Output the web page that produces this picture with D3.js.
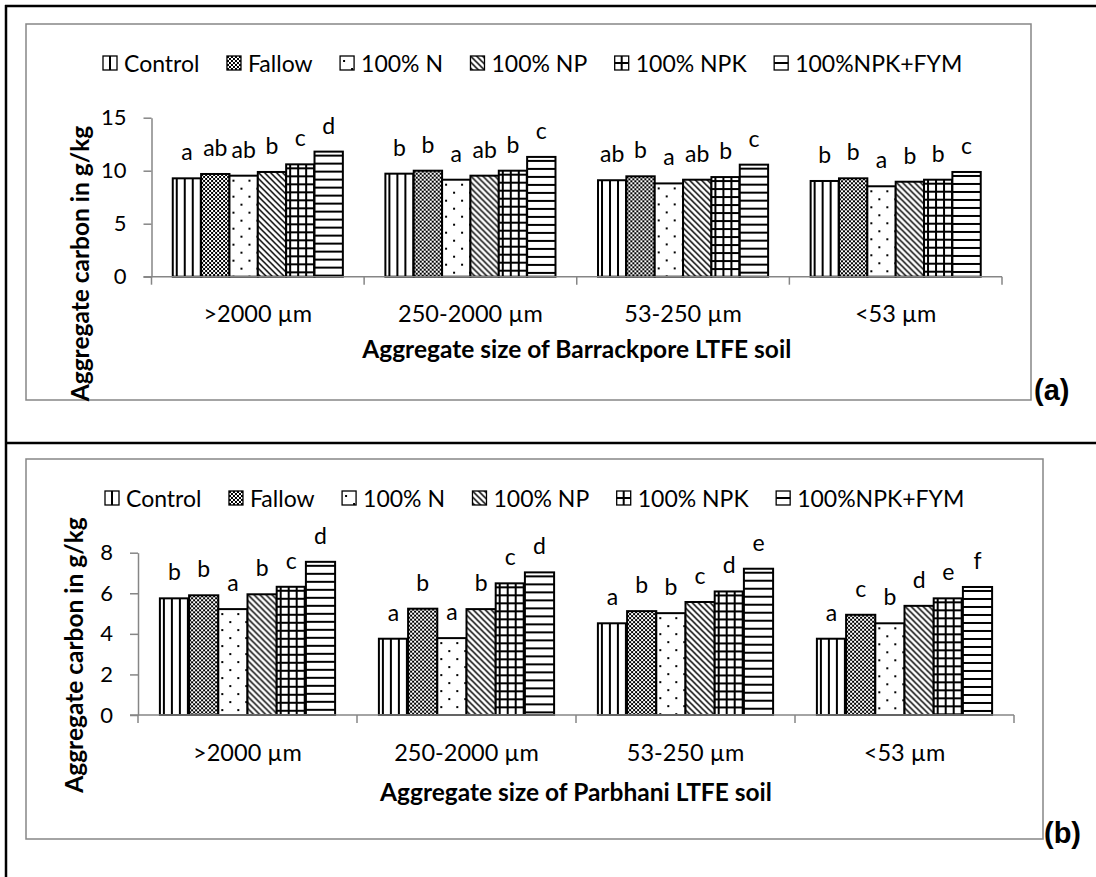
<!DOCTYPE html>
<html>
<head>
<meta charset="utf-8">
<script src="https://cdn.jsdelivr.net/npm/d3@7"></script>
<style>
  html, body { margin: 0; padding: 0; background: #fff; }
  svg { display: block; }
  text { font-family: Lato, "Noto Sans", sans-serif; fill: #000; }
</style>
</head>
<body>
<svg id="chart" width="1096" height="877"></svg>
<script>
// ---------------- DATA ----------------
const categories = [">2000 µm", "250-2000 µm", "53-250 µm", "<53 µm"];
const treatments = ["Control", "Fallow", "100% N", "100% NP", "100% NPK", "100%NPK+FYM"];

// (a) Barrackpore LTFE soil – aggregate carbon (g/kg), per treatment across categories
const barrackporeControl = [9.28, 9.72, 9.10, 9.03];
const barrackporeFallow  = [9.69, 10.00, 9.47, 9.28];
const barrackporeN       = [9.53, 9.15, 8.80, 8.53];
const barrackporeNP      = [9.88, 9.53, 9.15, 8.96];
const barrackporeNPK     = [10.60, 10.00, 9.40, 9.15];
const barrackporeNPKFYM  = [11.80, 11.30, 10.57, 9.88];
const barrackporeLetters = [
  ["a", "ab", "ab", "b", "c", "d"],
  ["b", "b", "a", "ab", "b", "c"],
  ["ab", "b", "a", "ab", "b", "c"],
  ["b", "b", "a", "b", "b", "c"]
];
const barrackporeTicks = [0, 5, 10, 15];

// (b) Parbhani LTFE soil
const parbhaniControl = [5.75, 3.76, 4.52, 3.76];
const parbhaniFallow  = [5.90, 5.24, 5.12, 4.94];
const parbhaniN       = [5.22, 3.79, 5.02, 4.52];
const parbhaniNP      = [5.95, 5.22, 5.57, 5.38];
const parbhaniNPK     = [6.32, 6.49, 6.09, 5.75];
const parbhaniNPKFYM  = [7.55, 7.03, 7.21, 6.31];
const parbhaniLetters = [
  ["b", "b", "a", "b", "c", "d"],
  ["a", "b", "a", "b", "c", "d"],
  ["a", "b", "b", "c", "d", "e"],
  ["a", "c", "b", "d", "e", "f"]
];
const parbhaniTicks = [0, 2, 4, 6, 8];

const yTitle = "Aggregate carbon in g/kg";
const xTitleA = "Aggregate size of Barrackpore LTFE soil";
const xTitleB = "Aggregate size of Parbhani LTFE soil";

// ---------------- STYLE ----------------
const axisGray = "#868686";
const svg = d3.select("#chart");
const defs = svg.append("defs");

const patternKinds = ["vert", "check", "dots", "diag", "grid", "horiz"];

function makePattern(id, kind, tile) {
  const p = defs.append("pattern").attr("id", id)
    .attr("patternUnits", "userSpaceOnUse")
    .attr("width", kind === "check" ? 4 : (kind === "dots" ? 16 : tile))
    .attr("height", kind === "check" ? 4 : (kind === "dots" ? 16 : tile));
  const m = tile / 2 - 1;
  if (kind === "vert") {
    p.append("rect").attr("x", m).attr("y", 0).attr("width", 2).attr("height", tile).attr("fill", "#000");
  } else if (kind === "horiz") {
    p.append("rect").attr("x", 0).attr("y", m).attr("width", tile).attr("height", 2).attr("fill", "#000");
  } else if (kind === "grid") {
    p.append("rect").attr("x", m).attr("y", 0).attr("width", 2).attr("height", tile).attr("fill", "#000");
    p.append("rect").attr("x", 0).attr("y", m).attr("width", tile).attr("height", 2).attr("fill", "#000");
  } else if (kind === "check") {
    p.append("rect").attr("x", 0).attr("y", 0).attr("width", 2).attr("height", 2).attr("fill", "#000");
    p.append("rect").attr("x", 2).attr("y", 2).attr("width", 2).attr("height", 2).attr("fill", "#000");
  } else if (kind === "dots") {
    p.append("rect").attr("x", 3).attr("y", 4).attr("width", 2).attr("height", 2).attr("fill", "#000");
    p.append("rect").attr("x", 11).attr("y", 12).attr("width", 2).attr("height", 2).attr("fill", "#000");
  } else if (kind === "diag") {
    p.attr("width", 6).attr("height", 6);
    p.append("path").attr("d", "M-1,-1 L7,7 M-1,5 L1,7 M5,-1 L7,1")
      .attr("stroke", "#000").attr("stroke-width", 1.5).attr("fill", "none");
  }
}
patternKinds.forEach(k => { makePattern("bar-" + k, k, 8); makePattern("key-" + k, k, 14); });

// ---------------- FRAME ----------------
const frame = svg.append("g").attr("stroke", "#000").attr("stroke-width", 2.5);
frame.append("line").attr("x1", 5).attr("x2", 1096).attr("y1", 6).attr("y2", 6);
frame.append("line").attr("x1", 6).attr("x2", 6).attr("y1", 5).attr("y2", 877);
frame.append("line").attr("x1", 5).attr("x2", 1096).attr("y1", 443).attr("y2", 443);

// ---------------- CHART ----------------
function drawChart(cfg) {
  const g = svg.append("g");
  const series = cfg.series;

  // chart area border
  g.append("rect").attr("x", cfg.box[0]).attr("y", cfg.box[1])
    .attr("width", cfg.box[2] - cfg.box[0]).attr("height", cfg.box[3] - cfg.box[1])
    .attr("fill", "none").attr("stroke", axisGray).attr("stroke-width", 1.5);

  const x = d3.scaleBand().domain(categories).range([cfg.x0, cfg.x1]).paddingInner(0).paddingOuter(0);
  const bw = x.bandwidth();
  const xi = d3.scaleBand().domain(treatments).range([bw * 0.1, bw * 0.9]).padding(0);
  const y = d3.scaleLinear().domain(cfg.domain).range([cfg.yBottom, cfg.yTop]);

  // bars
  categories.forEach((cat, ci) => {
    treatments.forEach((t, ti) => {
      const v = series[ti][ci];
      const bx = x(cat) + xi(t);
      const by = y(v);
      const bg = g.append("g").attr("transform", `translate(${bx},${by})`);
      bg.append("rect").attr("width", xi.bandwidth()).attr("height", y(0) - by).attr("fill", "#fff");
      bg.append("rect").attr("width", xi.bandwidth()).attr("height", y(0) - by)
        .attr("fill", `url(#bar-${patternKinds[ti]})`)
        .attr("stroke", "#000").attr("stroke-width", 2);
      g.append("text").attr("x", bx + xi.bandwidth() / 2).attr("y", by - 18)
        .attr("text-anchor", "middle").style("font-size", "23px")
        .text(cfg.letters[ci][ti]);
    });
  });

  // y axis
  const yAxis = d3.axisLeft(y).tickValues(cfg.ticks).tickSize(8).tickSizeOuter(0).tickPadding(17)
    .tickFormat(d3.format("d"));
  const ya = g.append("g").attr("transform", `translate(${cfg.x0},0)`).call(yAxis);
  ya.select(".domain").attr("stroke", axisGray).attr("stroke-width", 1.5);
  ya.selectAll(".tick line").attr("stroke", axisGray).attr("stroke-width", 1.5);
  ya.selectAll(".tick text").style("font-size", "22px").style("font-family", "Lato, sans-serif").attr("fill", "#000");

  // x axis
  const xa = g.append("g").attr("stroke", axisGray).attr("stroke-width", 1.5);
  xa.append("line").attr("x1", cfg.x0 - 8).attr("x2", cfg.x1).attr("y1", y(0)).attr("y2", y(0));
  const bounds = categories.map(c => x(c)).concat([cfg.x1]);
  bounds.forEach(b => {
    xa.append("line").attr("x1", b).attr("x2", b).attr("y1", y(0)).attr("y2", y(0) + 8);
  });
  categories.forEach(c => {
    g.append("text").attr("x", x(c) + bw / 2).attr("y", cfg.catY)
      .attr("text-anchor", "middle").attr("dominant-baseline", "central")
      .style("font-size", "23.5px").text(c);
  });

  // axis titles
  g.append("text").attr("x", (cfg.x0 + cfg.x1) / 2).attr("y", cfg.xTitleY)
    .attr("text-anchor", "middle").attr("dominant-baseline", "central")
    .style("font-size", "24.5px").style("font-weight", "bold").text(cfg.xTitle);
  g.append("text").attr("transform", `translate(${cfg.yTitleX},${cfg.yTitleY}) rotate(-90)`)
    .attr("text-anchor", "middle").attr("dominant-baseline", "central")
    .style("font-size", "24.5px").style("font-weight", "bold").text(yTitle);

  // legend
  const leg = g.append("g");
  let lx = cfg.legendX;
  treatments.forEach((t, ti) => {
    const item = leg.append("g").attr("transform", `translate(${lx},${cfg.legendY - 7})`);
    item.append("rect").attr("width", 14).attr("height", 14).attr("fill", "#fff");
    item.append("rect").attr("width", 14).attr("height", 14)
      .attr("fill", `url(#key-${patternKinds[ti]})`).attr("stroke", "#000").attr("stroke-width", 1.3);
    const tx = item.append("text").attr("x", 21).attr("y", 7).attr("dominant-baseline", "central")
      .style("font-size", "23px").text(t);
    lx += 21 + tx.node().getComputedTextLength() + 27.5;
  });

  // panel label
  g.append("text").attr("x", cfg.panelX).attr("y", cfg.panelY)
    .style("font-family", "'Liberation Sans', Arial, sans-serif").style("font-weight", "bold")
    .style("font-size", "29px").text(cfg.panel);
}

drawChart({
  series: [barrackporeControl, barrackporeFallow, barrackporeN, barrackporeNP, barrackporeNPK, barrackporeNPKFYM],
  letters: barrackporeLetters, ticks: barrackporeTicks, domain: [0, 15],
  box: [26, 24, 1031, 400],
  x0: 151.5, x1: 1002, yBottom: 276.7, yTop: 117.7,
  catY: 313, xTitleY: 348, xTitle: xTitleA,
  yTitleX: 79, yTitleY: 263.5,
  legendX: 103, legendY: 63,
  panel: "(a)", panelX: 1034, panelY: 400
});

drawChart({
  series: [parbhaniControl, parbhaniFallow, parbhaniN, parbhaniNP, parbhaniNPK, parbhaniNPKFYM],
  letters: parbhaniLetters, ticks: parbhaniTicks, domain: [0, 8],
  box: [26, 459, 1043, 839],
  x0: 138, x1: 1014, yBottom: 715, yTop: 552.7,
  catY: 751.7, xTitleY: 791.7, xTitle: xTitleB,
  yTitleX: 73, yTitleY: 655,
  legendX: 105, legendY: 498,
  panel: "(b)", panelX: 1044, panelY: 843
});
</script>
</body>
</html>
